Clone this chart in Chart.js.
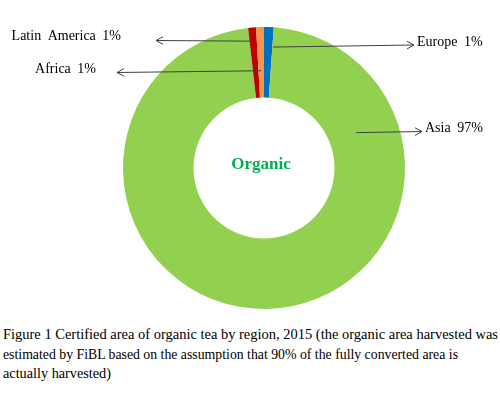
<!DOCTYPE html>
<html>
<head>
<meta charset="utf-8">
<script src="https://cdn.jsdelivr.net/npm/chart.js@4"></script>
<style>
  html, body { margin: 0; padding: 0; background: #fff; }
  #wrap { position: relative; width: 500px; height: 399px; overflow: hidden; }
  #chart { position: absolute; left: 0; top: 0; }
  .cap {
    position: absolute; left: 3px; white-space: nowrap;
    font-family: "Liberation Serif", "Times New Roman", serif;
    font-size: 15px; line-height: 20px; color: #000;
    transform-origin: 0 50%;
  }
</style>
</head>
<body>
<div id="wrap">
  <canvas id="chart" width="500" height="320"></canvas>
  <div class="cap" id="cap1" data-w="495" style="top:324px">Figure 1 Certified area of organic tea by region, 2015 (the organic area harvested was</div>
  <div class="cap" id="cap2" data-w="455" style="top:344px">estimated by FiBL based on the assumption that 90% of the fully converted area is</div>
  <div class="cap" id="cap3" data-w="108" style="top:363px">actually harvested)</div>
</div>
<script>
// data, clockwise from 12 o'clock
const regions = ["Europe", "Asia", "Latin America", "Africa"];
const shares = [1.1, 97.1, 0.9, 0.9];
const sliceColors = ["#0070C0", "#92D050", "#C00000", "#F79646"];

// callouts: slice index, where the arrow starts (angle from top in deg or null = slice middle,
// distance as fraction of outer radius), arrow tip and label anchor
const callouts = [
  { i: 0, ang: 4.2, r: 0.86, tipX: 414, tipY: 45, tx: 417, ty: 42, align: "left" },
  { i: 1, ang: 69, r: 0.70, tipX: 422, tipY: 131.5, tx: 425, ty: 128, align: "left" },
  { i: 2, ang: -6.2, r: 0.905, tipX: 156, tipY: 40.5, tx: 121, ty: 36.5, align: "right" },
  { i: 3, ang: null, r: 0.69, tipX: 117, tipY: 72.5, tx: 96, ty: 69, align: "right" }
];

const calloutPlugin = {
  id: "callouts",
  afterDraw(chart) {
    const ctx = chart.ctx;
    const arcs = chart.getDatasetMeta(0).data;
    const cx = arcs[0].x, cy = arcs[0].y, R = arcs[0].outerRadius;

    ctx.save();
    // center label
    ctx.font = "bold 17px 'Liberation Serif', serif";
    ctx.fillStyle = "#00B050";
    ctx.textAlign = "center";
    ctx.textBaseline = "middle";
    ctx.fillText("Organic", cx - 3, cy - 3);

    callouts.forEach((c) => {
      const a = arcs[c.i];
      // chart.js angles: 0 = 3 o'clock; convert
      const ang = c.ang === null ? (a.startAngle + a.endAngle) / 2 : (c.ang - 90) * Math.PI / 180;
      const sx = cx + Math.cos(ang) * R * c.r;
      const sy = cy + Math.sin(ang) * R * c.r;

      ctx.strokeStyle = "#404040";
      ctx.lineWidth = 1;
      ctx.beginPath();
      ctx.moveTo(sx, sy);
      ctx.lineTo(c.tipX, c.tipY);
      ctx.stroke();

      // open arrow head
      const d = Math.atan2(c.tipY - sy, c.tipX - sx);
      const len = 8, spread = 0.5;
      ctx.beginPath();
      ctx.moveTo(c.tipX - len * Math.cos(d - spread), c.tipY - len * Math.sin(d - spread));
      ctx.lineTo(c.tipX, c.tipY);
      ctx.lineTo(c.tipX - len * Math.cos(d + spread), c.tipY - len * Math.sin(d + spread));
      ctx.stroke();

      ctx.font = "14px 'Liberation Serif', serif";
      ctx.wordSpacing = "3px";
      ctx.fillStyle = "#000";
      ctx.textAlign = c.align;
      ctx.textBaseline = "middle";
      ctx.fillText(regions[c.i] + " " + Math.round(shares[c.i]) + "%", c.tx, c.ty);
    });
    ctx.restore();
  }
};

new Chart(document.getElementById("chart"), {
  type: "doughnut",
  data: {
    labels: regions,
    datasets: [{ data: shares, backgroundColor: sliceColors, borderWidth: 0 }]
  },
  options: {
    responsive: false,
    animation: false,
    cutout: "50%",
    layout: { padding: { left: 123, right: 95, top: 27, bottom: 11 } },
    plugins: { legend: { display: false }, tooltip: { enabled: false } }
  },
  plugins: [calloutPlugin]
});

// squeeze caption lines to the widths seen in the figure
document.querySelectorAll(".cap").forEach((el) => {
  const w = el.getBoundingClientRect().width;
  el.style.transform = "scaleX(" + (Number(el.dataset.w) / w) + ")";
});
</script>
</body>
</html>
